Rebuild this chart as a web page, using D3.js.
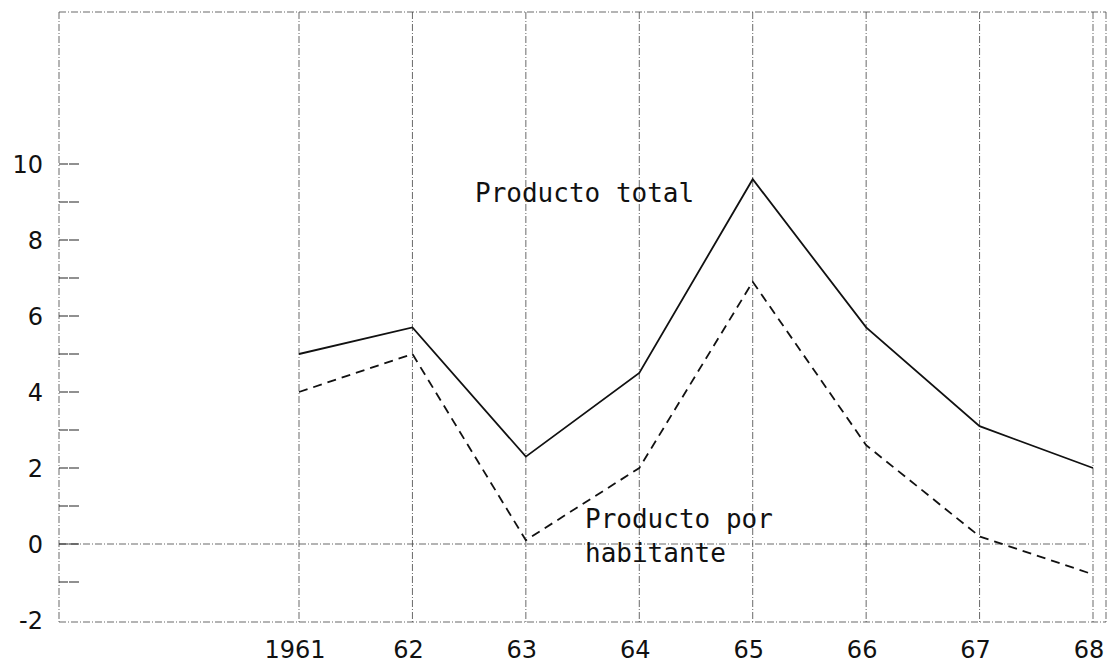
<!DOCTYPE html>
<html>
<head>
<meta charset="utf-8">
<script src="https://cdn.jsdelivr.net/npm/d3@7"></script>
<style>
  body { margin: 0; background: #fff; }
  .grid { stroke: #444; stroke-width: 1; stroke-dasharray: 7,2,1,2; fill: none; opacity: 0.8; }
  .tick-label { font-family: "DejaVu Sans", sans-serif; font-size: 24px; fill: #111; }
  .note { font-family: "DejaVu Sans Mono", monospace; font-size: 26px; fill: #111; }
</style>
</head>
<body>
<script>
(function() {

    var width = 1113,
        height = 668;

    // data (tasas anuales, %)
    var years = [1961, 1962, 1963, 1964, 1965, 1966, 1967, 1968];
    var yearLabels = ["1961", "62", "63", "64", "65", "66", "67", "68"];
    var productoTotal = [5.0, 5.7, 2.3, 4.5, 9.6, 5.7, 3.1, 2.0];
    var productoHabitante = [4.0, 5.0, 0.1, 2.0, 6.9, 2.6, 0.2, -0.8];
    var yLabels = [10, 8, 6, 4, 2, 0, -2];
    var yMinor = [9, 7, 5, 3, 1, -1];

    var svg = d3.select("body")
        .append("svg")
        .attr("width", width)
        .attr("height", height);

    var left = 59, right = 1106, top = 12, bottom = 620;

    var x = d3.scaleLinear()
        .domain([1961, 1968])
        .range([299, 1093]);

    var y = d3.scaleLinear()
        .domain([-2, 14])
        .range([bottom, top]);

    // frame
    svg.append("line").attr("class", "grid")
        .attr("x1", left).attr("x2", right).attr("y1", top).attr("y2", top);
    svg.append("line").attr("class", "grid")
        .attr("x1", left).attr("x2", right).attr("y1", bottom + 2).attr("y2", bottom + 2);
    svg.append("line").attr("class", "grid")
        .attr("x1", left).attr("x2", left).attr("y1", top).attr("y2", bottom + 2);
    svg.append("line").attr("class", "grid")
        .attr("x1", right).attr("x2", right).attr("y1", top).attr("y2", bottom + 2);

    // vertical year lines
    svg.selectAll(".vline")
        .data(years)
        .enter().append("line")
        .attr("class", "grid")
        .attr("x1", function(d) { return x(d); })
        .attr("x2", function(d) { return x(d); })
        .attr("y1", top)
        .attr("y2", bottom + 2);

    // zero line
    svg.append("line").attr("class", "grid")
        .attr("x1", left).attr("x2", x(1968) - 2)
        .attr("y1", y(0)).attr("y2", y(0));

    // y ticks
    svg.selectAll(".ytick")
        .data(yLabels.concat(yMinor).filter(function(d) { return d > -2; }))
        .enter().append("line")
        .attr("x1", left)
        .attr("x2", left + 21)
        .attr("y1", function(d) { return y(d); })
        .attr("y2", function(d) { return y(d); })
        .attr("stroke", "#222")
        .attr("stroke-width", 1.2)
        .attr("stroke-dasharray", "9,1,10,1");

    svg.selectAll(".ylab")
        .data(yLabels)
        .enter().append("text")
        .attr("class", "tick-label")
        .attr("x", 43)
        .attr("y", function(d) { return y(d); })
        .attr("dy", "0.36em")
        .attr("text-anchor", "end")
        .text(function(d) { return d; });

    svg.selectAll(".xlab")
        .data(years)
        .enter().append("text")
        .attr("class", "tick-label")
        .attr("x", function(d) { return x(d) - 4; })
        .attr("y", 658)
        .attr("text-anchor", "middle")
        .text(function(d, i) { return yearLabels[i]; });

    var line = d3.line()
        .x(function(d, i) { return x(years[i]); })
        .y(function(d) { return y(d); });

    svg.append("path")
        .datum(productoTotal)
        .attr("d", line)
        .attr("fill", "none")
        .attr("stroke", "#111")
        .attr("stroke-width", 1.8);

    svg.append("path")
        .datum(productoHabitante)
        .attr("d", line)
        .attr("fill", "none")
        .attr("stroke", "#111")
        .attr("stroke-width", 1.8)
        .attr("stroke-dasharray", "9,6");

    // labels
    svg.append("text").attr("class", "note")
        .attr("x", 475).attr("y", 202)
        .text("Producto total");
    svg.append("text").attr("class", "note")
        .attr("x", 585).attr("y", 528)
        .text("Producto por");
    svg.append("text").attr("class", "note")
        .attr("x", 585).attr("y", 562)
        .text("habitante");

})();
</script>
</body>
</html>
